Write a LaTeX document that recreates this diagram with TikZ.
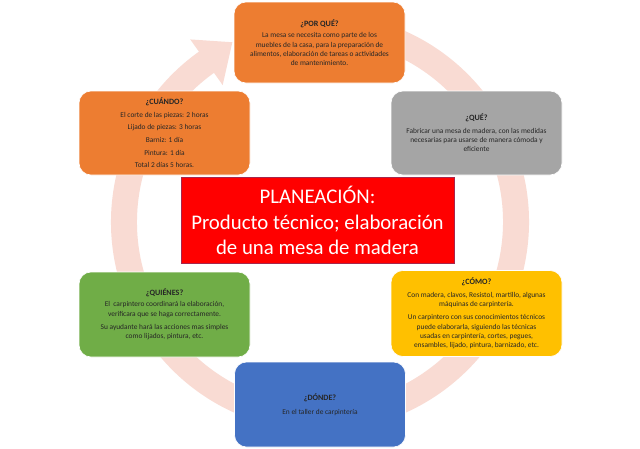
\documentclass[tikz,border=0pt]{standalone}
\usepackage{fontspec}
\setmainfont{Carlito}
\usetikzlibrary{calc}

\newlength{\du}
\setlength{\du}{1\unitlength}

\tikzset{
  cyclebox/.style={rounded corners=12\du, minimum width=171\du, minimum height=84\du,
    inner sep=2\du, align=center, text=black!85, draw=white, line width=0.6\du,
    font=\fontsize{7.4}{9.3}\selectfont},
  titlebox/.style={minimum width=273\du, minimum height=86\du, inner sep=2\du,
    align=center, text=white, fill=planred, draw=planborder, line width=0.5\du,
    font=\fontsize{20.8}{25.5}\selectfont},
}
\newcommand{\boxhead}[1]{{\fontsize{8.1}{9.3}\selectfont\bfseries #1}}

\begin{document}
\begin{tikzpicture}
\pgftransformxscale{1.000000}
\pgftransformyscale{-1.000000}
\useasboundingbox (0\du,0\du) rectangle (640\du,448\du);
\fill[white] (0\du,0\du) rectangle (640\du,448\du);
\definecolor{ringcolor}{rgb}{0.976471, 0.858824, 0.827451}
\definecolor{planred}{rgb}{1.000000, 0.000000, 0.000000}
\definecolor{planborder}{rgb}{0.650000, 0.150000, 0.300000}
\definecolor{boxorange}{rgb}{0.929412, 0.490196, 0.192157}
\definecolor{boxgray}{rgb}{0.647059, 0.647059, 0.647059}
\definecolor{boxgreen}{rgb}{0.439216, 0.678431, 0.278431}
\definecolor{boxgold}{rgb}{1.000000, 0.752941, 0.000000}
\definecolor{boxblue}{rgb}{0.266667, 0.447059, 0.768627}

% ring arrow
\coordinate (ringc) at (320\du,222\du);
\draw[ringcolor, line width=26\du] ($(ringc)+(-80:196\du)$) arc[start angle=-80, end angle=235, radius=196\du];
\fill[ringcolor] ($(ringc)+(234.6:168\du)$) -- ($(ringc)+(234.6:224\du)$) -- ($(ringc)+(244:200\du)$) -- cycle;

% boxes
\node[cyclebox, fill=boxorange, minimum height=81\du] (porque) at (319.5\du,42.5\du)
  {\boxhead{¿POR QUÉ?}\\[2.5pt]
   La mesa se necesita como parte de los\\
   muebles de la casa, para la preparación de\\
   alimentos, elaboración de tareas o actividades\\
   de mantenimiento.};
\node[cyclebox, fill=boxgray] (que) at (476.5\du,133\du)
  {\boxhead{¿QUÉ?}\\[3.3pt]
   Fabricar una mesa de madera, con las medidas\\
   necesarias para usarse de manera cómoda y\\
   eficiente};
\node[cyclebox, fill=boxorange] (cuando) at (164.5\du,133\du)
  {\boxhead{¿CUÁNDO?}\\[3.1pt]
   El corte de las piezas: 2 horas\\[3.3pt]
   Lijado de piezas: 3 horas\\[3.3pt]
   Barniz: 1 día\\[3.3pt]
   Pintura: 1 día\\[3.3pt]
   Total 2 días 5 horas.};
\node[cyclebox, fill=boxgreen, minimum height=85\du] (quienes) at (164.5\du,314.5\du)
  {\boxhead{¿QUIÉNES?}\\[1.8pt]
   El \ carpintero coordinará la elaboración,\\
   verificara que se haga correctamente.\\[4.2pt]
   Su ayudante hará las acciones mas simples\\
   como lijados, pintura, etc.};
\node[cyclebox, fill=boxgold, minimum height=86\du] (como) at (476.5\du,313.5\du)
  {\boxhead{¿CÓMO?}\\[3.3pt]
   Con madera, clavos, Resistol, martillo, algunas\\
   máquinas de carpintería.\\[3.8pt]
   Un carpintero con sus conocimientos técnicos\\
   puede elaborarla, siguiendo las técnicas\\
   usadas en carpintería, cortes, pegues,\\
   ensambles, lijado, pintura, barnizado, etc.};
\node[cyclebox, fill=boxblue, minimum height=85\du] (donde) at (320\du,404.5\du)
  {\boxhead{¿DÓNDE?}\\[4.3pt]
   En el taller de carpintería};

% title
\node[titlebox] (plan) at (317.5\du,220.5\du)
  {PLANEACIÓN:\\ Producto técnico; elaboración\\ de una mesa de madera};
\end{tikzpicture}
\end{document}
